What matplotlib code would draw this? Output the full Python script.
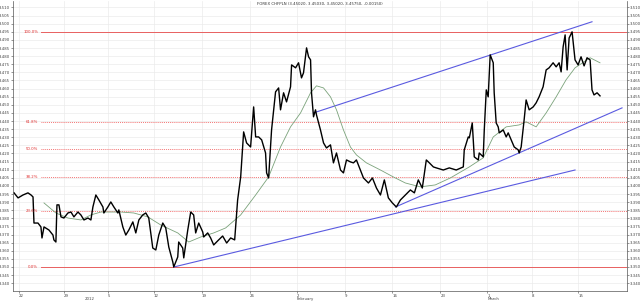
import matplotlib.pyplot as plt
import numpy as np

# x axis = trading days counted from Thu 22 Dec 2011
price_day = [-0.52, -0.10, 0.42, 0.94, 1.26, 1.47, 1.57, 1.99, 2.30, 2.41, 2.62, 3.14, 3.56, 3.66,
             3.87, 3.98, 4.19, 4.40, 4.71, 5.13, 5.45, 5.76, 6.18, 6.49, 6.81, 7.23, 7.54, 7.75,
             8.06, 8.38, 8.80, 8.90, 9.32, 9.63, 9.95, 10.37, 10.47, 10.89, 11.20, 11.52, 11.94,
             12.25, 12.57, 12.98, 13.30, 13.61, 14.03, 14.35, 14.66, 15.08, 15.39, 15.71, 16.13,
             16.23, 16.65, 16.75, 17.17, 17.28, 17.70, 18.01, 18.32, 18.53, 18.85, 19.27, 19.37,
             19.79, 20.10, 20.42, 20.94, 21.36, 21.78, 22.20, 22.62, 22.93, 23.25, 23.56, 23.87,
             24.29, 24.61, 24.82, 25.13, 25.45, 25.86, 25.97, 26.18, 26.49, 26.91, 27.23, 27.43,
             27.75, 28.06, 28.48, 28.59, 29.01, 29.32, 29.63, 29.84, 30.16, 30.37, 30.58, 30.68,
             30.89, 31.10, 31.20, 31.62, 31.94, 32.25, 32.67, 32.98, 33.30, 33.72, 34.03, 34.35,
             34.76, 35.08, 35.39, 35.81, 36.13, 36.65, 37.07, 37.49, 37.91, 38.32, 38.74, 39.16,
             39.58, 40.00, 40.52, 41.05, 41.47, 41.88, 42.30, 42.72, 43.04, 43.46, 43.77, 44.50,
             45.13, 45.86, 46.60, 46.70, 47.12, 47.23, 47.54, 47.75, 48.17, 48.27, 48.69, 48.80,
             49.01, 49.21, 49.42, 49.74, 49.84, 50.05, 50.26, 50.37, 50.79, 51.10, 51.31, 51.62,
             51.94, 52.36, 52.46, 52.67, 52.98, 53.19, 53.51, 53.93, 54.24, 54.55, 54.97, 55.29,
             55.60, 56.02, 56.34, 56.65, 56.86, 57.07, 57.28, 57.49, 57.70, 58.01, 58.32, 58.64,
             58.95, 59.27, 59.58, 59.90, 60.10, 60.31, 60.63, 60.94]
price_val = [3.3957, 3.3926, 3.3944, 3.3957, 3.3944, 3.3932, 3.3771, 3.3771, 3.3747, 3.3679, 3.3747,
             3.3728, 3.3697, 3.3667, 3.3654, 3.3883, 3.3883, 3.3809, 3.3802, 3.3833, 3.3839, 3.3809,
             3.3839, 3.3821, 3.3790, 3.3802, 3.3790, 3.3870, 3.3944, 3.3913, 3.3870, 3.3833, 3.3870,
             3.3901, 3.3870, 3.3833, 3.3852, 3.3747, 3.3697, 3.3728, 3.3778, 3.3710, 3.3790, 3.3821,
             3.3833, 3.3802, 3.3617, 3.3605, 3.3697, 3.3771, 3.3741, 3.3623, 3.3531, 3.3500, 3.3562,
             3.3654, 3.3617, 3.3556, 3.3728, 3.3839, 3.3821, 3.3710, 3.3771, 3.3716, 3.3685, 3.3710,
             3.3679, 3.3636, 3.3667, 3.3691, 3.3648, 3.3679, 3.3667, 3.3913, 3.4055, 3.4333, 3.4265,
             3.4240, 3.4487, 3.4302, 3.4302, 3.4284, 3.4203, 3.4080, 3.4049, 3.4345, 3.4580, 3.4604,
             3.4469, 3.4574, 3.4518, 3.4611, 3.4746, 3.4728, 3.4759, 3.4666, 3.4697, 3.4851, 3.4796,
             3.4777, 3.4574, 3.4426, 3.4469, 3.4438, 3.4345, 3.4265, 3.4234, 3.4253, 3.4142, 3.4203,
             3.4098, 3.4080, 3.4160, 3.4148, 3.4142, 3.4160, 3.4098, 3.4049, 3.4018, 3.4049, 3.3987,
             3.3944, 3.4037, 3.3926, 3.3895, 3.3870, 3.3913, 3.3944, 3.3975, 3.3957, 3.4037, 3.3987,
             3.4160, 3.4142, 3.4117, 3.4111, 3.4098, 3.4111, 3.4098, 3.4117, 3.4222, 3.4302, 3.4296,
             3.4388, 3.4179, 3.4160, 3.4203, 3.4179, 3.4345, 3.4592, 3.4549, 3.4808, 3.4759, 3.4574,
             3.4388, 3.4364, 3.4327, 3.4345, 3.4302, 3.4327, 3.4284, 3.4240, 3.4222, 3.4203, 3.4240,
             3.4407, 3.4530, 3.4469, 3.4487, 3.4512, 3.4549, 3.4611, 3.4715, 3.4728, 3.4759, 3.4734,
             3.4759, 3.4703, 3.4857, 3.4931, 3.4715, 3.4912, 3.4950, 3.4777, 3.4746, 3.4796, 3.4740,
             3.4790, 3.4777, 3.4592, 3.4561, 3.4574, 3.4555]

ma_day = [2.62, 3.87, 5.13, 6.49, 7.54, 8.59, 10.68, 12.04, 13.51, 14.87, 16.65, 17.80, 19.06, 20.42,
          21.68, 23.25, 24.82, 26.18, 27.43, 28.48, 29.53, 30.58, 31.20, 31.94, 32.67, 33.30, 34.03,
          34.76, 35.39, 36.44, 37.91, 39.27, 40.52, 42.09, 43.66, 45.24, 47.23, 48.69, 49.74, 51.10,
          52.46, 53.19, 54.24, 55.29, 56.34, 57.38, 58.32, 59.90, 60.94]
ma_val = [3.3895, 3.3833, 3.3802, 3.3790, 3.3821, 3.3839, 3.3839, 3.3833, 3.3809, 3.3759, 3.3710,
          3.3654, 3.3685, 3.3710, 3.3741, 3.3821, 3.3944, 3.4055, 3.4240, 3.4364, 3.4450, 3.4574,
          3.4617, 3.4604, 3.4549, 3.4469, 3.4345, 3.4240, 3.4191, 3.4142, 3.4098, 3.4055, 3.4018,
          3.3994, 3.4006, 3.4049, 3.4117, 3.4173, 3.4302, 3.4364, 3.4376, 3.4395, 3.4364, 3.4450,
          3.4549, 3.4654, 3.4728, 3.4790, 3.4759]

# trend lines (start day, start price, end day, end price)
trend_lines = [(16.23, 3.3500, 58.32, 3.4098),
               (39.48, 3.3870, 63.25, 3.4481),
               (30.89, 3.4450, 60.10, 3.5012)]

fib_low, fib_high = 3.350, 3.495
fib_levels = [0.0, 23.6, 38.2, 50.0, 61.8, 100.0]

tick_days = [0, 4.71, 9.32, 14.14, 19.16, 24.19, 29.11, 34.14, 39.16, 44.19, 49.11, 53.82, 58.64]
tick_labels = ["22", "29", "5", "12", "19", "26", "2", "9", "16", "23", "1", "8", "15"]
month_days = [6.9, 29.11, 49.11]
month_labels = ["2012", "February", "March"]

title = "FOREX CHFPLN (3.45020, 3.45030, 3.45020, 3.45750, -0.00150)"

fig = plt.figure(figsize=(6.4, 3.02), dpi=100)
ax = fig.add_axes([13 / 640, 11 / 302, 614 / 640, 290 / 302])
ax.set_xlim(-0.63, 63.77)
ax.set_ylim(3.3352, 3.514)

yt = np.arange(3.340, 3.5101, 0.005)
ax.set_yticks(yt)
ax.set_yticklabels(["%.3f" % v for v in yt])
ax.set_xticks(tick_days)
ax.set_xticklabels(tick_labels, ha="left")
ax.tick_params(axis="y", labelsize=2.8, length=1.5, width=0.4, pad=0.8, colors="#444444",
               right=True, labelright=True)
ax.tick_params(axis="x", labelsize=2.8, length=1.5, width=0.4, pad=0.5, colors="#444444")
ax.grid(True, color="#ebebeb", linewidth=0.5)
ax.set_axisbelow(True)
ax.spines["top"].set_visible(False)
for s in ["left", "bottom", "right"]:
    ax.spines[s].set_linewidth(0.5)
    ax.spines[s].set_color("#555555")

for m_d, m_l in zip(month_days, month_labels):
    ax.text(m_d, -0.022, m_l, transform=ax.get_xaxis_transform(), fontsize=2.8,
            color="#444444", ha="left", va="top")

# fibonacci levels
for lev in fib_levels:
    p = fib_low + (fib_high - fib_low) * lev / 100
    if lev in (0.0, 100.0):
        ax.plot([2.3, 63.77], [p, p], color="#e86060", lw=0.7)
    else:
        ax.plot([2.3, 63.77], [p, p], color="#f04a4a", lw=0.6, ls=(0, (1, 1.3)))
    ax.text(2.0, p, "%.1f%%" % lev, color="#e03030", fontsize=2.8, ha="right", va="center")

for d0, p0, d1, p1 in trend_lines:
    ax.plot([d0, d1], [p0, p1], color="#5a5ae0", lw=0.8)

ax.plot(ma_day, ma_val, color="#7aa27a", lw=0.6)
ax.plot(price_day, price_val, color="black", lw=1.0)

ax.text(0.5, 0.995, title, transform=ax.transAxes, fontsize=2.8, color="#333333",
        ha="center", va="top")

fig.savefig("out.png", dpi=100)
